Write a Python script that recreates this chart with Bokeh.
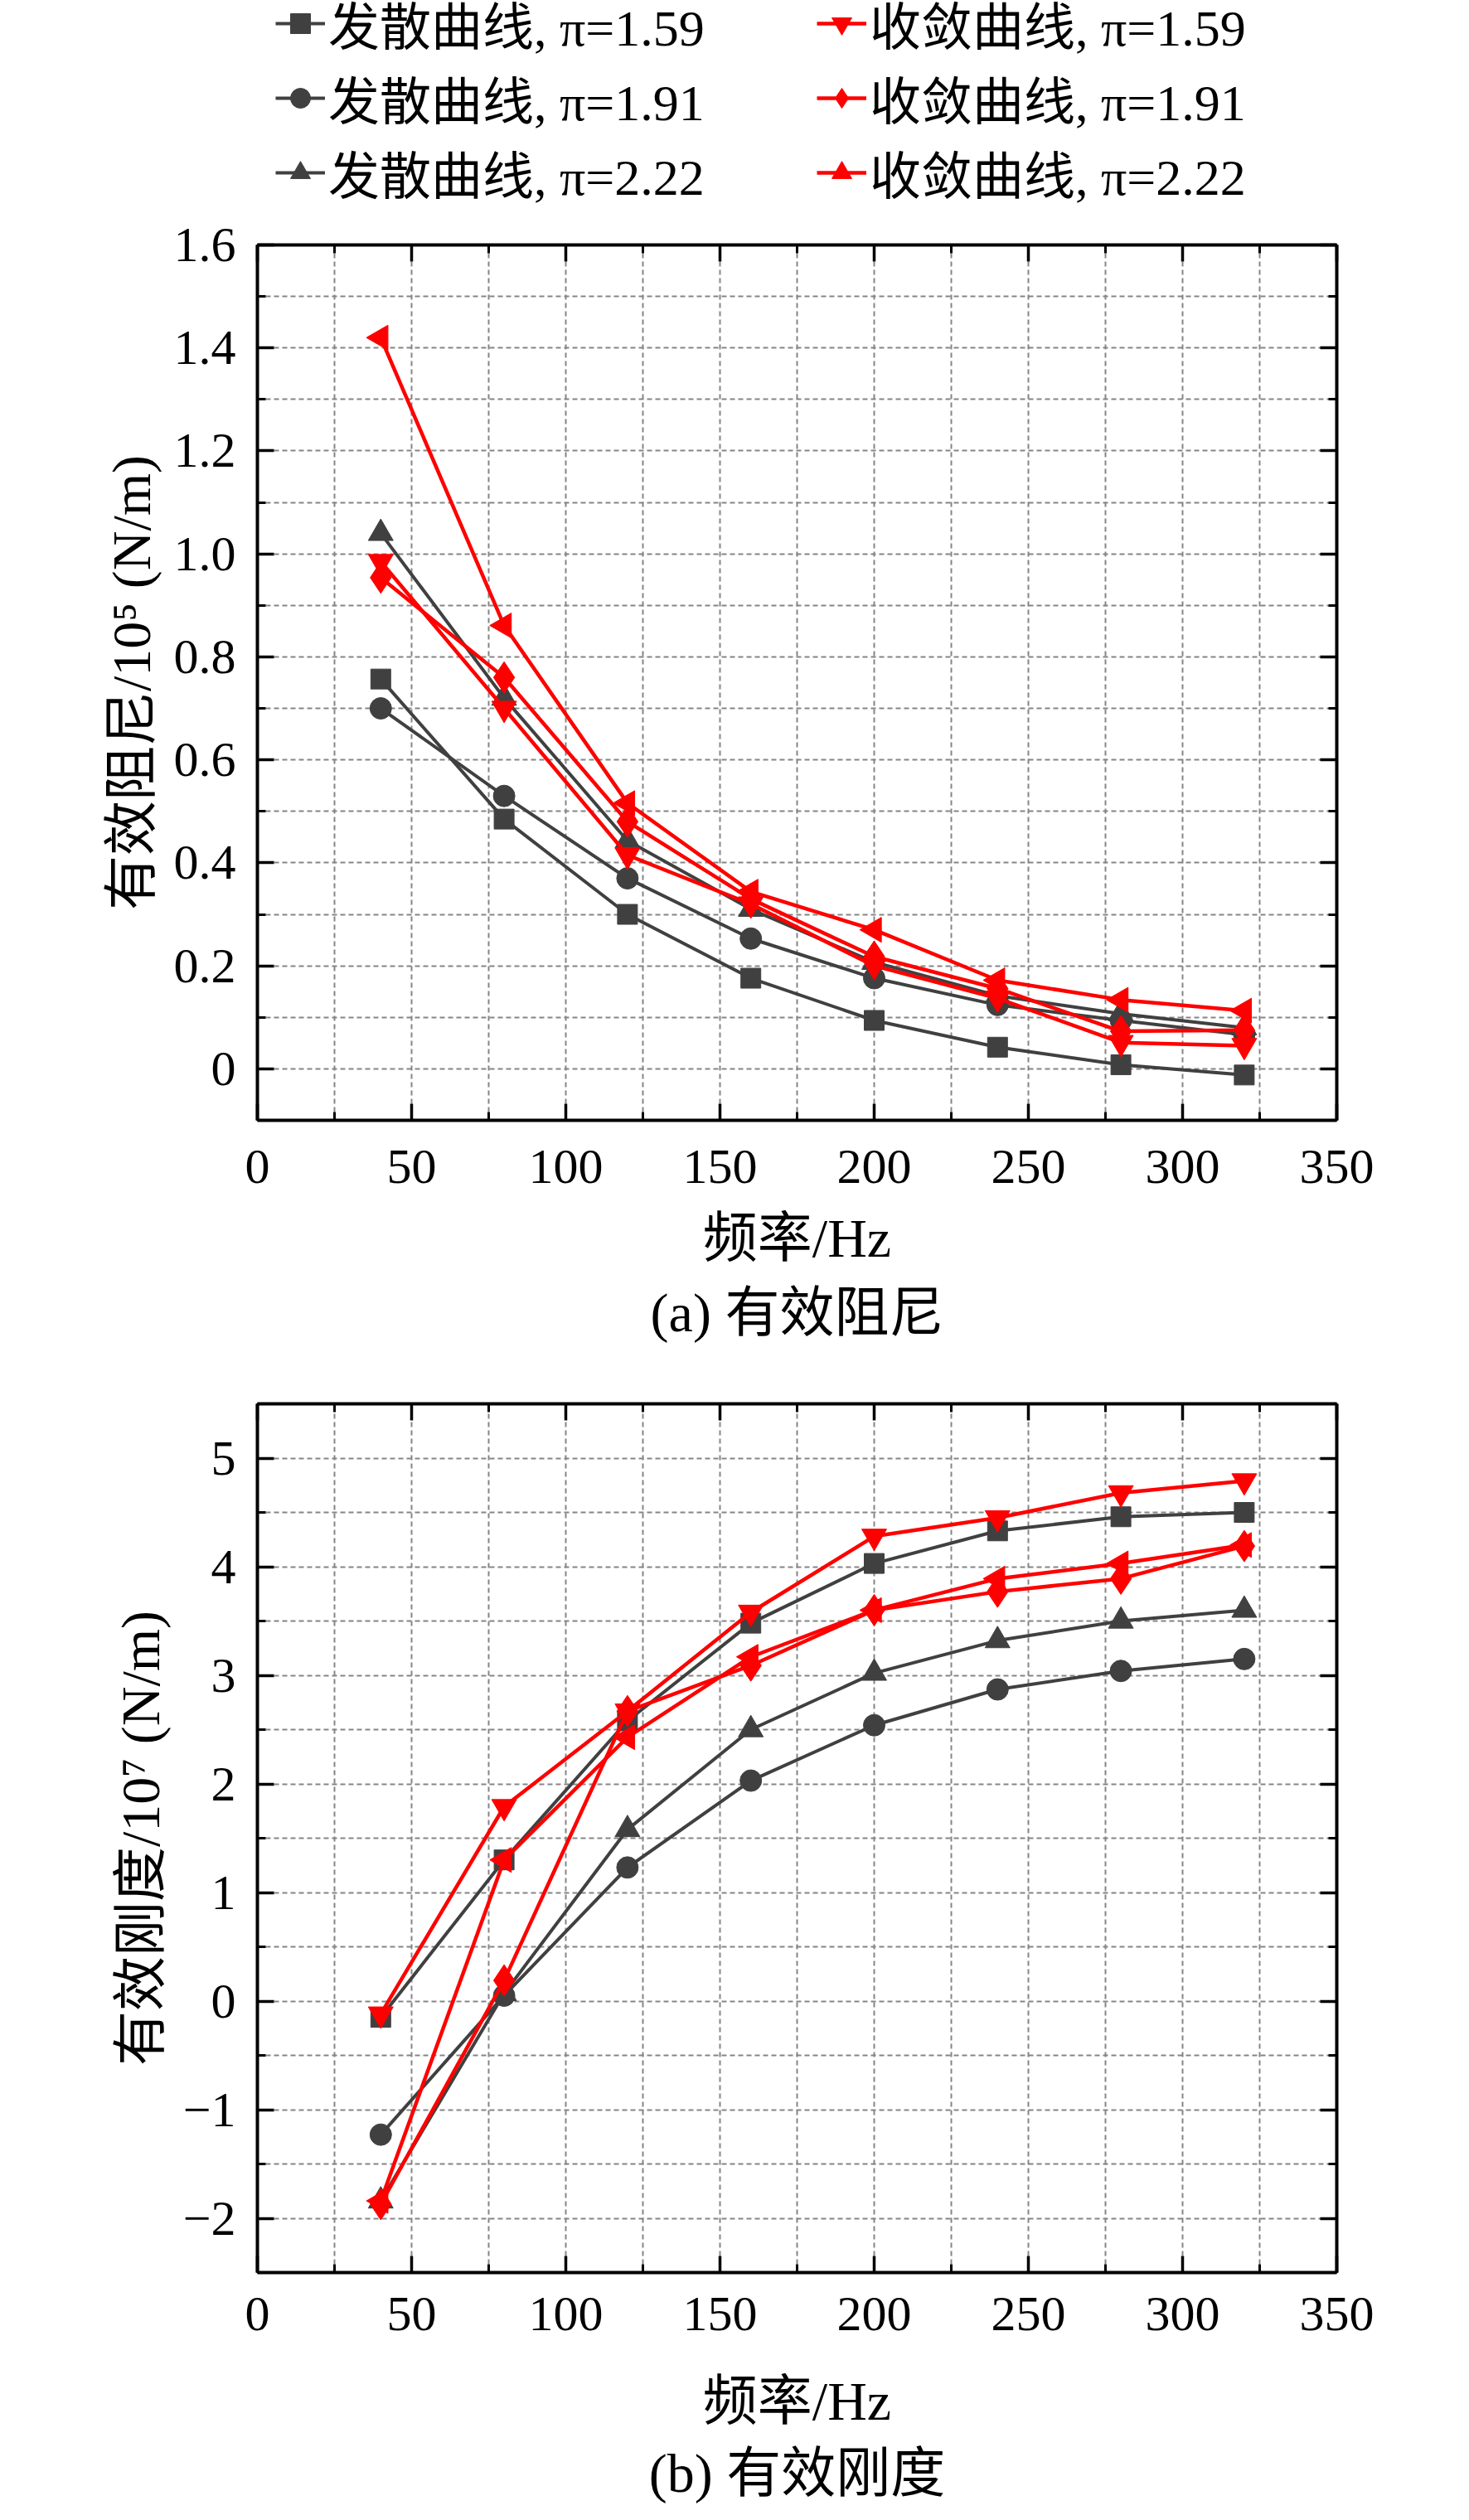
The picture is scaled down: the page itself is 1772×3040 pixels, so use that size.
import math
from bokeh.plotting import figure
from bokeh.models import (LinearAxis, SingleIntervalTicker, Range1d, Legend, LegendItem,
                          Title, CustomJSTickFormatter)
from bokeh.layouts import column
from bokeh.embed import file_html
from bokeh.resources import INLINE

# ---------------- data ----------------
freq = [40, 80, 120, 160, 200, 240, 280, 320]
series_labels = ["发散曲线, π=1.59", "发散曲线, π=1.91", "发散曲线, π=2.22",
                 "收敛曲线, π=1.59", "收敛曲线, π=1.91", "收敛曲线, π=2.22"]

# effective damping / 1e5 (N/m)
damp_div_159 = [0.757, 0.485, 0.300, 0.176, 0.094, 0.042, 0.008, -0.012]
damp_div_191 = [0.700, 0.530, 0.370, 0.253, 0.176, 0.124, 0.094, 0.066]
damp_div_222 = [1.040, 0.720, 0.443, 0.310, 0.207, 0.142, 0.107, 0.080]
damp_con_159 = [0.985, 0.700, 0.415, 0.320, 0.200, 0.137, 0.051, 0.045]
damp_con_191 = [0.954, 0.760, 0.480, 0.330, 0.218, 0.156, 0.073, 0.075]
damp_con_222 = [1.420, 0.861, 0.516, 0.344, 0.270, 0.172, 0.134, 0.113]

# effective stiffness / 1e7 (N/m)
stiff_div_159 = [-0.15, 1.30, 2.58, 3.48, 4.03, 4.33, 4.46, 4.50]
stiff_div_191 = [-1.23, 0.05, 1.23, 2.03, 2.54, 2.87, 3.04, 3.15]
stiff_div_222 = [-1.84, 0.07, 1.58, 2.50, 3.02, 3.32, 3.50, 3.60]
stiff_con_159 = [-0.12, 1.79, 2.67, 3.58, 4.28, 4.45, 4.68, 4.79]
stiff_con_191 = [-1.87, 0.19, 2.67, 3.09, 3.60, 3.77, 3.89, 4.19]
stiff_con_222 = [-1.84, 1.30, 2.43, 3.17, 3.60, 3.89, 4.03, 4.20]

x_ticks_interval = 50
damp_title = "有效阻尼/10⁵ (N/m)"
stiff_title = "有效刚度/10⁷ (N/m)"
x_title = "频率/Hz"
cap_a = "(a) 有效阻尼"
cap_b = "(b) 有效刚度"

damp_series = [damp_div_159, damp_div_191, damp_div_222, damp_con_159, damp_con_191, damp_con_222]
stiff_series = [stiff_div_159, stiff_div_191, stiff_div_222, stiff_con_159, stiff_con_191, stiff_con_222]

# ---------------- style ----------------
FONT = "'Liberation Serif', 'Noto Sans CJK SC', serif"
LATIN = "'Liberation Serif', serif"
DARK = "#404040"
RED = "#ff0000"
styles = [
    ("square", DARK, 0.0, 24, 4.0),
    ("circle", DARK, 0.0, 26, 4.0),
    ("triangle", DARK, 0.0, 30, 4.0),
    ("inverted_triangle", RED, 0.0, 30, 4.5),
    ("diamond", RED, 0.0, 38, 4.5),
    ("triangle", RED, math.pi / 2, 30, 4.5),
]


def style_axis(ax, labels=True, tick_font=FONT):
    ax.axis_line_width = 4
    ax.axis_line_color = "black"
    ax.major_tick_in = 20
    ax.major_tick_out = 0
    ax.minor_tick_in = 10
    ax.minor_tick_out = 0
    ax.major_tick_line_width = 3.5
    ax.minor_tick_line_width = 3
    ax.major_tick_line_color = "black"
    ax.minor_tick_line_color = "black"
    if labels:
        ax.major_label_text_font = tick_font
        ax.major_label_text_font_size = "60px"
        ax.major_label_text_color = "black"
        ax.axis_label_text_font = FONT
        ax.axis_label_text_font_size = "66px"
        ax.axis_label_text_font_style = "normal"
        ax.axis_label_text_color = "black"
    else:
        ax.formatter = CustomJSTickFormatter(code="return '';")
        ax.major_label_standoff = 0


def draw_series(p, ys):
    items = []
    for yv, lab, (mk, col, ang, sz, lw) in zip(ys, series_labels, styles):
        lr = p.line(freq, yv, line_color=col, line_width=lw)
        sr = p.scatter(freq, yv, marker=mk, size=sz, angle=ang,
                       fill_color=col, line_color=col, line_width=1)
        items.append(LegendItem(label=lab, renderers=[lr, sr]))
    return items


def make_fig(ys, ymin, ymax, yint, ylabel, caption, top_b, frame_h, bottom_b, yfmt,
             tick_so, lab_so, cap_so):
    p = figure(frame_width=1302, frame_height=frame_h,
               x_range=Range1d(0, 350), y_range=Range1d(ymin, ymax),
               output_backend="svg", toolbar_location=None,
               min_border_left=310, min_border_right=144,
               min_border_top=top_b, min_border_bottom=bottom_b,
               outline_line_color=None, background_fill_color="white",
               border_fill_color="white")
    xt = SingleIntervalTicker(interval=x_ticks_interval, num_minor_ticks=2)
    yt = SingleIntervalTicker(interval=yint, num_minor_ticks=2)
    p.xaxis[0].ticker = xt
    p.yaxis[0].ticker = yt
    p.xgrid[0].ticker = xt
    p.ygrid[0].ticker = yt
    for g in (p.xgrid[0], p.ygrid[0]):
        g.grid_line_color = None
        g.minor_grid_line_color = "#858585"
        g.minor_grid_line_dash = "6 4"
        g.minor_grid_line_width = 2
    p.yaxis[0].formatter = CustomJSTickFormatter(code=yfmt)
    style_axis(p.xaxis[0])
    style_axis(p.yaxis[0], tick_font=LATIN)
    p.xaxis[0].axis_label = x_title
    p.yaxis[0].axis_label = ylabel
    p.xaxis[0].major_label_standoff = tick_so
    p.xaxis[0].axis_label_standoff = lab_so
    p.yaxis[0].major_label_standoff = 26
    p.yaxis[0].axis_label_standoff = 12
    ra = LinearAxis(ticker=yt)
    style_axis(ra, labels=False)
    p.add_layout(ra, "right")
    ta = LinearAxis(ticker=xt)
    style_axis(ta, labels=False)
    p.add_layout(ta, "above")

    draw_series(p, ys)

    p.add_layout(Title(text=caption, align="center", text_font=FONT,
                       text_font_size="66px", text_font_style="normal",
                       text_color="black", standoff=cap_so), "below")
    return p


# ---- legend strip (own figure; its series lie outside its view) ----
LEG_H = 254
pl = figure(frame_width=1302, frame_height=LEG_H, min_border_left=310, min_border_right=144,
            min_border_top=0, min_border_bottom=0,
            x_range=Range1d(1000, 2000), y_range=Range1d(1000, 2000),
            x_axis_type=None, y_axis_type=None, output_backend="svg",
            toolbar_location=None, outline_line_color=None,
            background_fill_color="white", border_fill_color="white")
pl.xgrid.visible = False
pl.ygrid.visible = False
leg_items = draw_series(pl, damp_series)

FONT_PX = 62
item_h = int(round(FONT_PX * 1.448))
sp = -3
lg = Legend(items=leg_items, orientation="vertical", ncols=2,
            border_line_color=None, background_fill_alpha=0, padding=0, margin=0,
            glyph_width=60, glyph_height=60, label_height=50,
            label_width=589, label_standoff=4, label_text_font=FONT,
            label_text_font_size="%dpx" % FONT_PX, label_text_color="black")
try:
    lg.spacing = sp
except Exception:
    sp = 0
    lg.spacing = 0
leg_total = 3 * item_h + 2 * sp
top_page = 34 - item_h / 2.0
lg.location = (22, int(round(LEG_H - (top_page + leg_total))))
pl.add_layout(lg, "center")

fmt_a = "return tick === 0 ? '0' : tick.toFixed(1);"
fmt_b = "var v = Math.round(tick); return v < 0 ? '\\u2212' + Math.abs(v) : '' + v;"

p1 = make_fig(damp_series, -0.1, 1.6, 0.2, damp_title, cap_a, 295 - LEG_H, 1056, 289, fmt_a, 36, 27, 24)
p2 = make_fig(stiff_series, -2.5, 5.5, 1, stiff_title, cap_b, 53, 1048, 283, fmt_b, 30, 46, 18)

layout = column(pl, p1, p2, spacing=0)
open("out.html", "w").write(file_html(layout, INLINE))
